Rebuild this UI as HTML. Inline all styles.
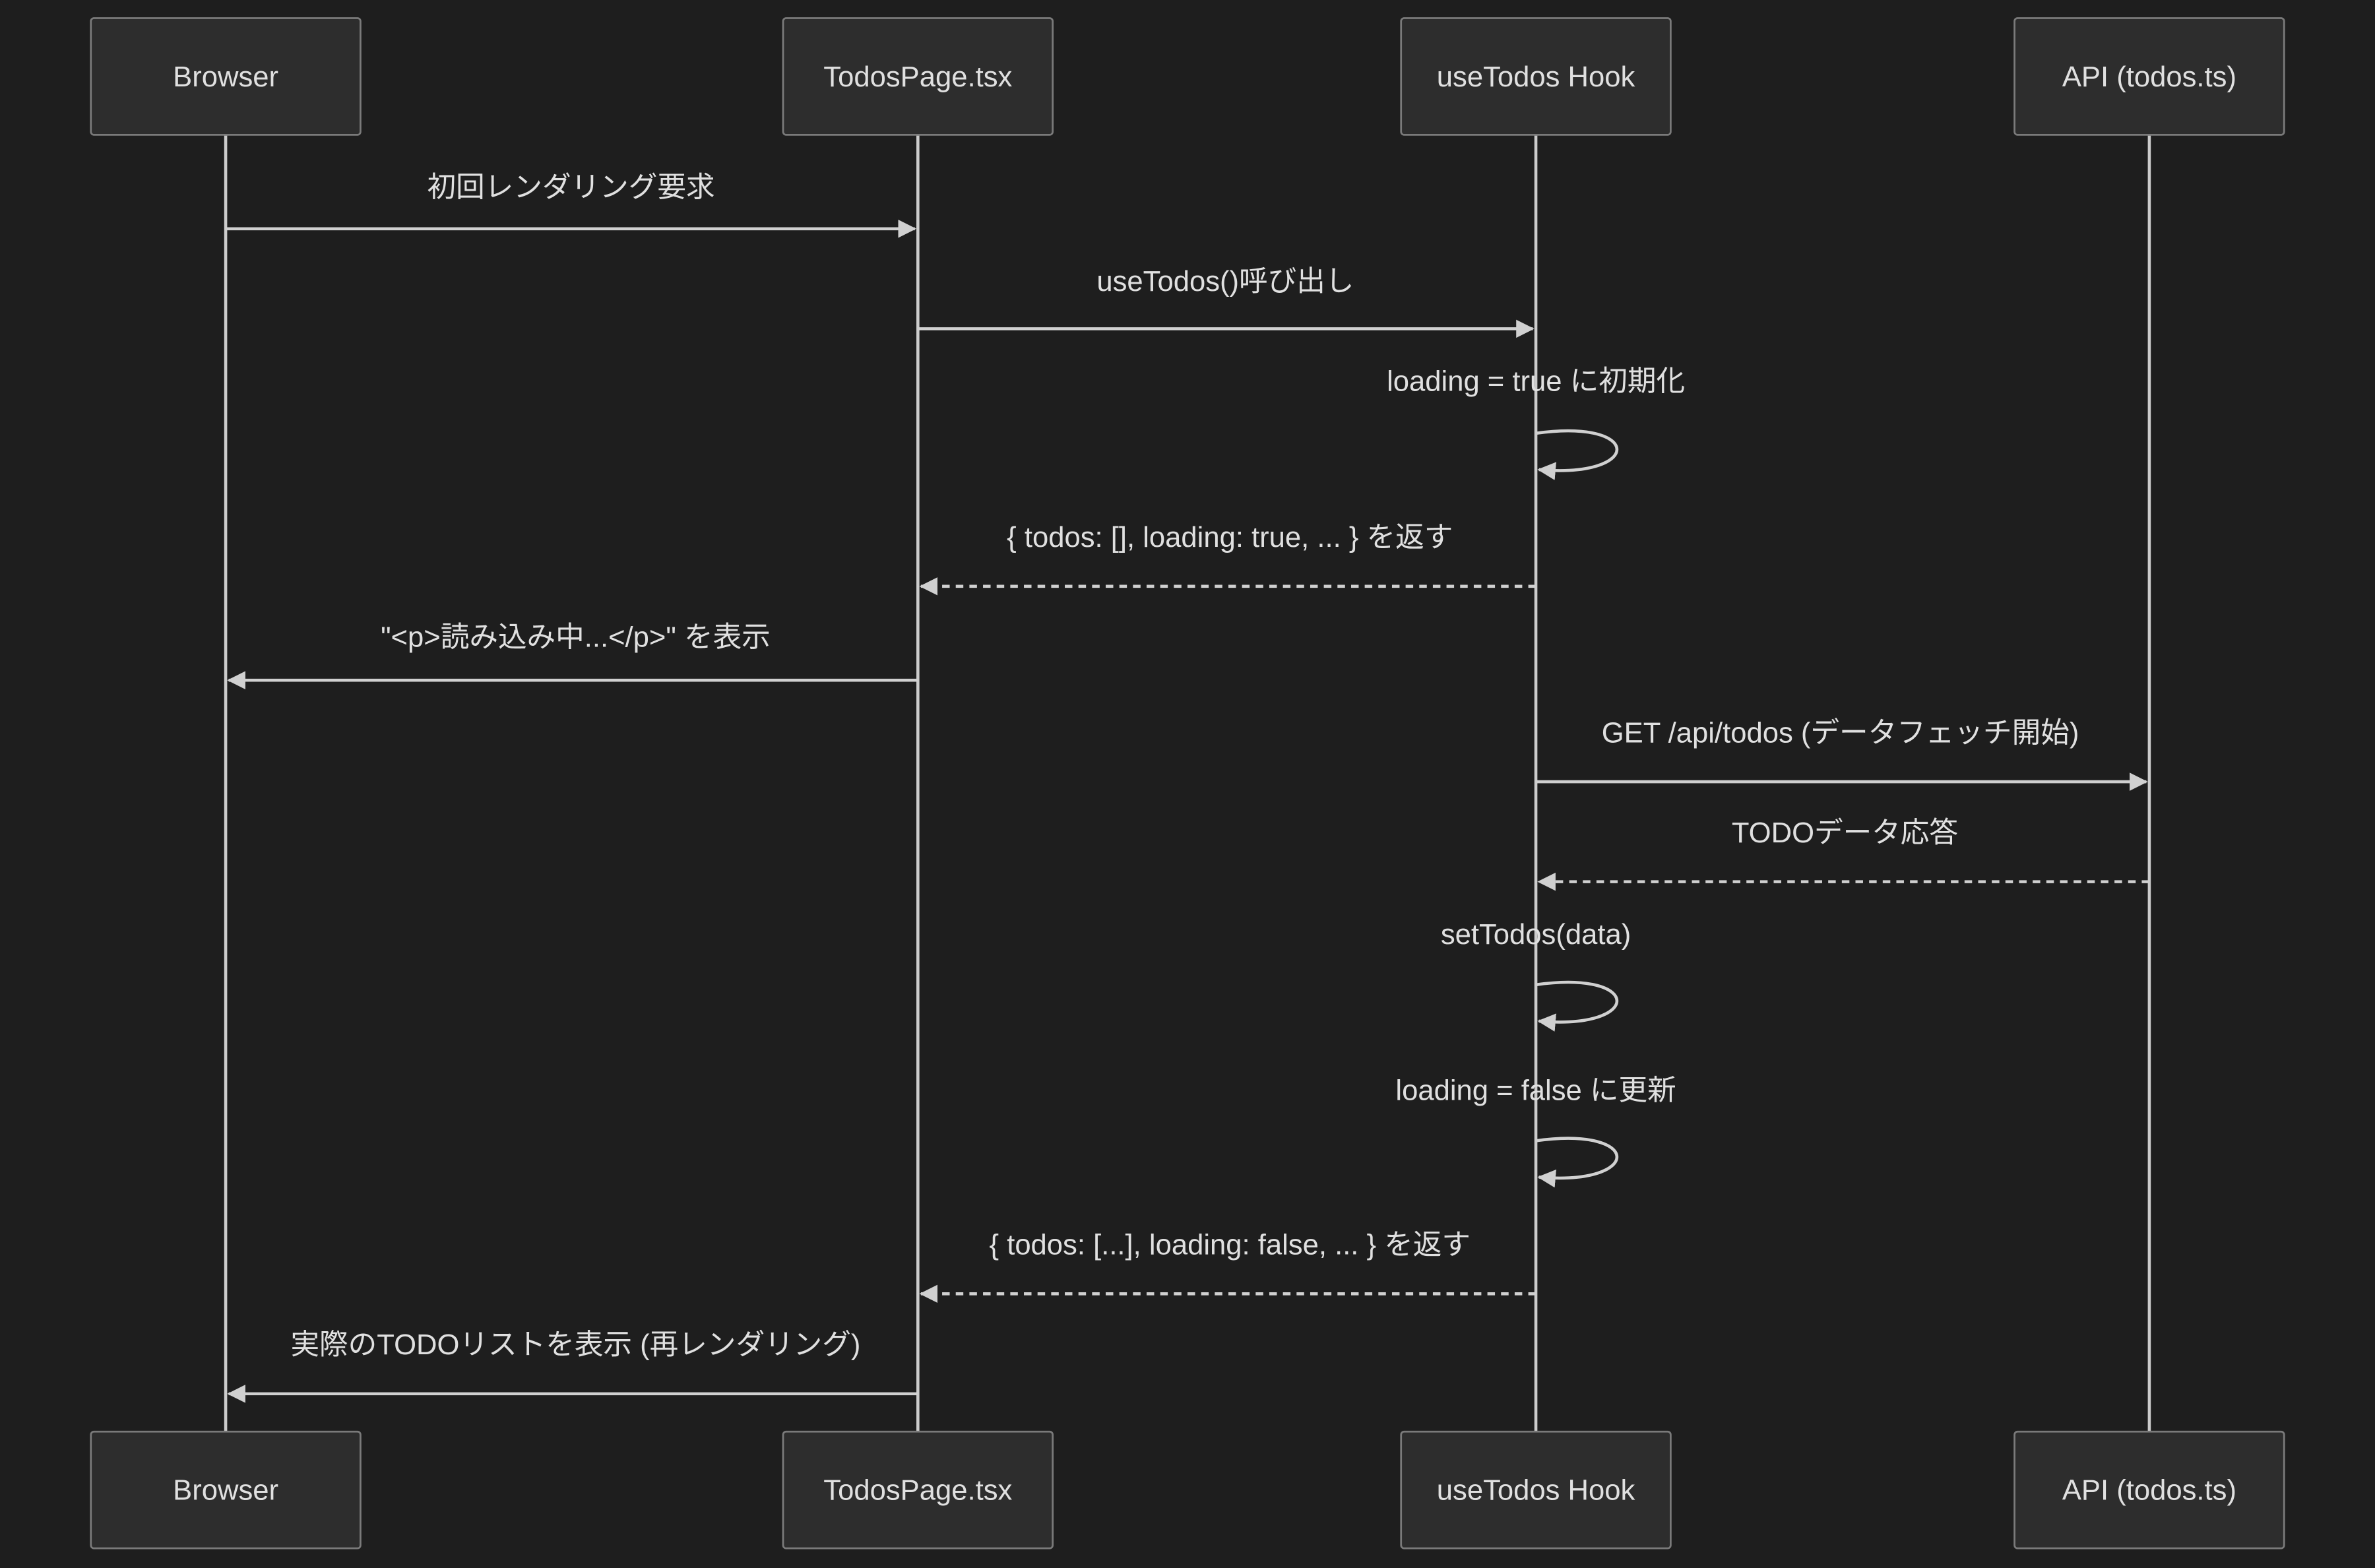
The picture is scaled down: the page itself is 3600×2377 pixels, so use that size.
<!DOCTYPE html>
<html><head><meta charset="utf-8"><style>
html,body{margin:0;padding:0;background:#1e1e1e;}
svg{display:block;}
text{font-family:"Liberation Sans","Noto Sans CJK JP",sans-serif;fill:#e0e0e0;font-size:19px;text-anchor:middle;}
</style></head><body>
<svg width="3600" height="2377" viewBox="0 0 1568 1035" preserveAspectRatio="none" xmlns="http://www.w3.org/2000/svg">
<defs>
<marker id="a" markerWidth="12" markerHeight="12" refX="11" refY="6" orient="auto" markerUnits="userSpaceOnUse">
<path d="M0,0 L12,6 L0,12 z" fill="#d0d0d0"/></marker>
</defs>
<rect width="1568" height="1035" fill="#1e1e1e"/>
<g stroke="#cccccc" stroke-width="2">
<line x1="149" y1="89" x2="149" y2="945"/>
<line x1="606" y1="89" x2="606" y2="945"/>
<line x1="1014" y1="89" x2="1014" y2="945"/>
<line x1="1419" y1="89" x2="1419" y2="945"/>
</g>
<g fill="#2d2d2d" stroke="#7a7a7a" stroke-width="1.2">
<rect x="60" y="12" width="178" height="77" rx="2"/>
<rect x="517" y="12" width="178" height="77" rx="2"/>
<rect x="925" y="12" width="178" height="77" rx="2"/>
<rect x="1330" y="12" width="178" height="77" rx="2"/>
<rect x="60" y="945" width="178" height="77" rx="2"/>
<rect x="517" y="945" width="178" height="77" rx="2"/>
<rect x="925" y="945" width="178" height="77" rx="2"/>
<rect x="1330" y="945" width="178" height="77" rx="2"/>
</g>
<text x="149" y="57">Browser</text>
<text x="606" y="57">TodosPage.tsx</text>
<text x="1014" y="57">useTodos Hook</text>
<text x="1419" y="57">API (todos.ts)</text>
<text x="149" y="990">Browser</text>
<text x="606" y="990">TodosPage.tsx</text>
<text x="1014" y="990">useTodos Hook</text>
<text x="1419" y="990">API (todos.ts)</text>

<g stroke="#d0d0d0" stroke-width="2" fill="none">
<line x1="149" y1="151" x2="604" y2="151" marker-end="url(#a)"/>
<line x1="606" y1="217" x2="1012" y2="217" marker-end="url(#a)"/>
<path d="M1014,286 C1085,276 1085,316 1016,310" marker-end="url(#a)"/>
<line x1="1014" y1="387" x2="608" y2="387" stroke-dasharray="5,4" marker-end="url(#a)"/>
<line x1="606" y1="449" x2="151" y2="449" marker-end="url(#a)"/>
<line x1="1014" y1="516" x2="1417" y2="516" marker-end="url(#a)"/>
<line x1="1419" y1="582" x2="1016" y2="582" stroke-dasharray="5,4" marker-end="url(#a)"/>
<path d="M1014,650 C1085,640 1085,680 1016,674" marker-end="url(#a)"/>
<path d="M1014,753 C1085,743 1085,783 1016,777" marker-end="url(#a)"/>
<line x1="1014" y1="854" x2="608" y2="854" stroke-dasharray="5,4" marker-end="url(#a)"/>
<line x1="606" y1="920" x2="151" y2="920" marker-end="url(#a)"/>
</g>
<text x="377" y="130">初回レンダリング要求</text>
<text x="809" y="192">useTodos()呼び出し</text>
<text x="1014" y="258">loading = true に初期化</text>
<text x="812" y="361">{ todos: [], loading: true, ... } を返す</text>
<text x="380" y="427">"&lt;p&gt;読み込み中...&lt;/p&gt;" を表示</text>
<text x="1215" y="490">GET /api/todos (データフェッチ開始)</text>
<text x="1218" y="556">TODOデータ応答</text>
<text x="1014" y="623">setTodos(data)</text>
<text x="1014" y="726">loading = false に更新</text>
<text x="812" y="828">{ todos: [...], loading: false, ... } を返す</text>
<text x="380" y="894">実際のTODOリストを表示 (再レンダリング)</text>
</svg>
</body></html>
